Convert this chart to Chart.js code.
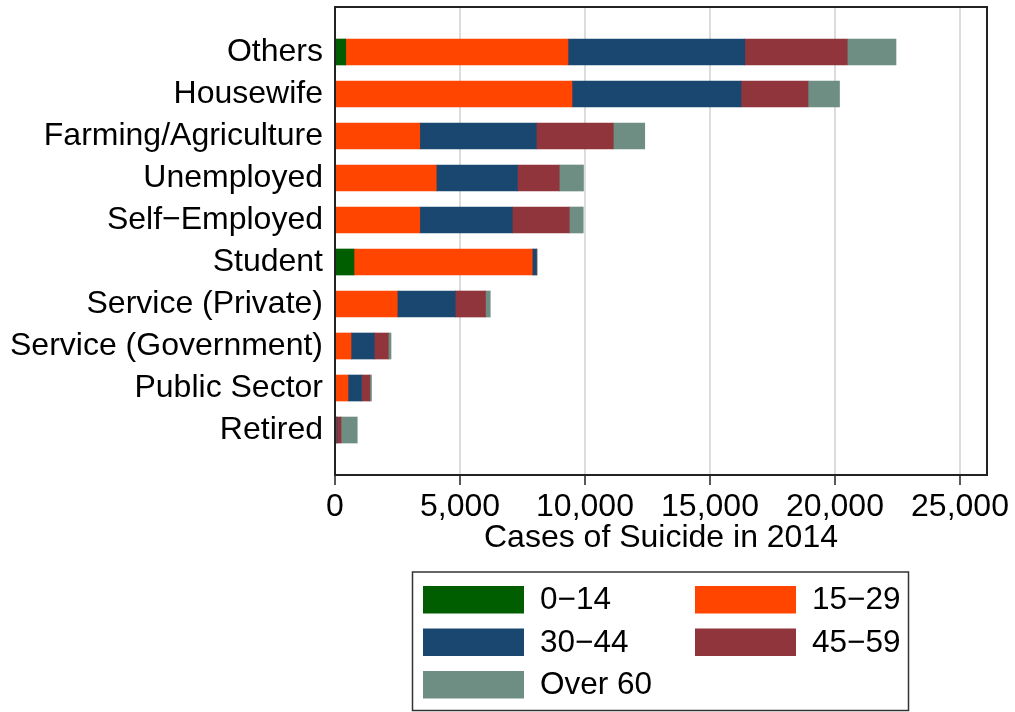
<!DOCTYPE html>
<html><head><meta charset="utf-8">
<script src="https://cdn.jsdelivr.net/npm/chart.js@4.4.1/dist/chart.umd.min.js"></script>
<style>html,body{margin:0;padding:0;background:#fff;}canvas{display:block;}</style>
</head><body>
<canvas id="c" width="1015" height="712"></canvas>
<script>
const categories = ["Others","Housewife","Farming/Agriculture","Unemployed","Self\u2212Employed","Student","Service (Private)","Service (Government)","Public Sector","Retired"];
const seriesNames = ["0\u221214","15\u221229","30\u221244","45\u221259","Over 60"];
const age0_14  = [430, 0, 0, 0, 0, 760, 0, 0, 0, 0];
const age15_29 = [8890, 9480, 3390, 4050, 3390, 7130, 2490, 640, 520, 20];
const age30_44 = [7070, 6760, 4660, 3250, 3700, 160, 2320, 930, 540, 60];
const age45_59 = [4100, 2680, 3080, 1670, 2280, 10, 1210, 560, 330, 160];
const ageOver60 = [1950, 1260, 1260, 970, 560, 30, 190, 110, 70, 650];
const xTicks = [0, 5000, 10000, 15000, 20000, 25000];
const xMax = 26080;
const colors = ["rgb(0,94,0)","rgb(255,69,0)","rgb(26,71,111)","rgb(144,53,59)","rgb(110,142,132)"];

const FONT = "'Liberation Sans', Arial, sans-serif";
const FS = 32;
const seriesValues = [age0_14, age15_29, age30_44, age45_59, ageOver60];

const datasets = seriesValues.map((vals, s) => ({
  label: seriesNames[s],
  data: vals.map((v, i) => ({x: v, y: i})),
  backgroundColor: colors[s],
  borderWidth: 0,
  barThickness: 26
}));

const framePlugin = {
  id: 'frame',
  afterDatasetsDraw(chart) {
    const {ctx, chartArea: a} = chart;
    ctx.save();
    ctx.strokeStyle = '#222';
    ctx.lineWidth = 2;
    ctx.strokeRect(a.left, a.top, a.right - a.left, a.bottom - a.top);
    ctx.restore();
  }
};

const legendPlugin = {
  id: 'customLegend',
  afterDraw(chart) {
    const ctx = chart.ctx;
    ctx.save();
    ctx.strokeStyle = '#333';
    ctx.lineWidth = 1.5;
    ctx.strokeRect(412.5, 572, 496, 138.5);
    const colX = [423, 695];
    const rowY = [586, 628.5, 671];
    ctx.font = '31.5px ' + FONT;
    ctx.textBaseline = 'middle';
    ctx.textAlign = 'left';
    chart.data.datasets.forEach((ds, k) => {
      const cx = colX[k % 2], ry = rowY[Math.floor(k / 2)];
      ctx.fillStyle = ds.backgroundColor;
      ctx.fillRect(cx, ry, 101, 27.5);
      ctx.fillStyle = '#000';
      ctx.fillText(ds.label, cx + 117, ry + 14.5);
    });
    ctx.restore();
  }
};

new Chart(document.getElementById('c'), {
  type: 'bar',
  data: { datasets },
  options: {
    indexAxis: 'y',
    responsive: false,
    animation: false,
    devicePixelRatio: 1,
    layout: { padding: { left: 0, right: 28, top: 7, bottom: 0 } },
    plugins: { legend: { display: false }, tooltip: { enabled: false } },
    scales: {
      x: {
        type: 'linear',
        stacked: true,
        min: 0,
        max: xMax,
        afterBuildTicks: s => { s.ticks = xTicks.map(v => ({value: v})); },
        afterFit: s => { s.height = 237; s.paddingLeft = 0; s.paddingRight = 0; s.paddingTop = 0; s.paddingBottom = 0; },
        grid: { color: '#dcdcdc', lineWidth: 2, drawTicks: true, tickLength: 10, tickColor: '#222', tickWidth: 1.5 },
        border: { display: true, color: '#222', width: 2 },
        ticks: {
          color: '#000', padding: 3, maxRotation: 0,
          font: { family: FONT, size: FS },
          callback: v => Number(v).toLocaleString('en-US')
        },
        title: {
          display: true, text: 'Cases of Suicide in 2014', color: '#000',
          font: { family: FONT, size: FS },
          padding: { top: 0, bottom: 155 }
        }
      },
      y: {
        type: 'linear',
        stacked: true,
        reverse: true,
        offset: false,
        bounds: 'data',
        grace: 0,
        min: -1.071,
        max: categories.length - 1 + 1.071,
        afterBuildTicks: s => { s.ticks = categories.map((c, i) => ({value: i})); },
        afterFit: s => { s.width = 335; s.paddingTop = 0; s.paddingBottom = 0; s.paddingLeft = 0; s.paddingRight = 0; },
        grid: { display: false, drawTicks: false, offset: false },
        border: { display: true, color: '#222', width: 2 },
        ticks: {
          color: '#000', padding: 12, autoSkip: false,
          font: { family: FONT, size: FS },
          callback: v => categories[v]
        }
      }
    }
  },
  plugins: [framePlugin, legendPlugin]
});
</script>
</body></html>
